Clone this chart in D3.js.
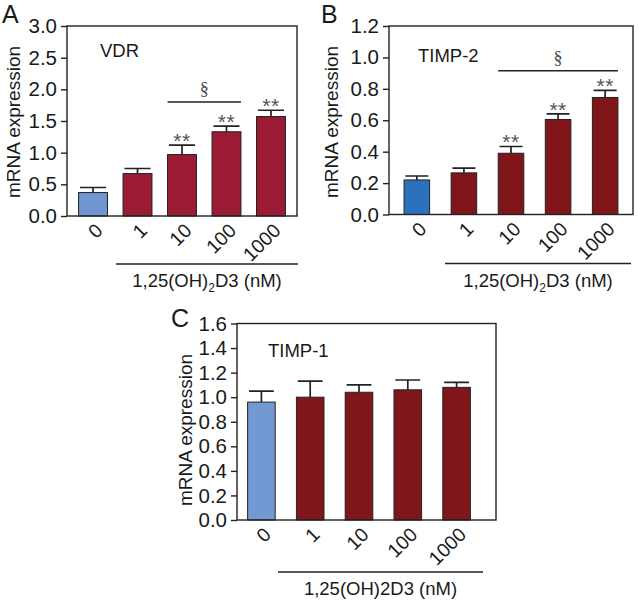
<!DOCTYPE html>
<html>
<head>
<meta charset="utf-8">
<script src="https://cdn.jsdelivr.net/npm/d3@7"></script>
<style>
  body { margin: 0; background: #fff; }
  svg { display: block; font-family: "Liberation Sans", Arial, sans-serif; }
</style>
</head>
<body>
<svg id="chart" width="638" height="602"></svg>
<script>
// doses of 1,25(OH)2D3 (nM)
const doses = ["0", "1", "10", "100", "1000"];

// A - VDR
const vdrMean = [0.37, 0.67, 0.97, 1.33, 1.57];
const vdrErr = [0.08, 0.08, 0.15, 0.09, 0.10];
const vdrStars = ["", "", "**", "**", "**"];
const vdrTicks = [0, 0.5, 1.0, 1.5, 2.0, 2.5, 3.0];

// B - TIMP-2
const timp2Mean = [0.22, 0.265, 0.39, 0.605, 0.745];
const timp2Err = [0.025, 0.03, 0.043, 0.035, 0.045];
const timp2Stars = ["", "", "**", "**", "**"];
const timp2Ticks = [0, 0.2, 0.4, 0.6, 0.8, 1.0, 1.2];

// C - TIMP-1
const timp1Mean = [0.96, 1.0, 1.04, 1.06, 1.08];
const timp1Err = [0.09, 0.13, 0.06, 0.08, 0.04];
const timp1Stars = ["", "", "", "", ""];
const timp1Ticks = [0, 0.2, 0.4, 0.6, 0.8, 1.0, 1.2, 1.4, 1.6];

const svg = d3.select("#chart");

function drawPanel(p) {
    const g = svg.append("g");

    const y = d3.scaleLinear()
        .domain([0, p.ticks[p.ticks.length - 1]])
        .range([p.y1, p.y0]);

    const x = d3.scaleBand()
        .domain(doses)
        .range(p.band)
        .paddingInner(p.pi)
        .paddingOuter(p.po);

    const data = doses.map((d, i) => ({dose: d, mean: p.mean[i], err: p.err[i], star: p.stars[i]}));

    // bars
    g.selectAll(".bar")
        .data(data)
        .enter().append("rect")
        .attr("x", d => x(d.dose))
        .attr("y", d => y(d.mean))
        .attr("width", x.bandwidth())
        .attr("height", d => y(0) - y(d.mean))
        .attr("fill", (d, i) => i == 0 ? p.blue : p.red)
        .attr("stroke", "#222")
        .attr("stroke-width", 1);

    // error bars (upper only)
    const cap = x.bandwidth() * 0.9;
    g.selectAll(".err")
        .data(data)
        .enter().append("path")
        .attr("d", d => {
            const cx = x(d.dose) + x.bandwidth() / 2;
            return "M" + cx + "," + y(d.mean) + "V" + y(d.mean + d.err) +
                "M" + (cx - cap / 2) + "," + y(d.mean + d.err) + "H" + (cx + cap / 2);
        })
        .attr("stroke", "#222")
        .attr("stroke-width", 1.7)
        .attr("fill", "none");

    // stars
    g.selectAll(".star")
        .data(data.filter(d => d.star))
        .enter().append("text")
        .attr("x", d => x(d.dose) + x.bandwidth() / 2)
        .attr("y", d => y(d.mean + d.err) + 3)
        .attr("text-anchor", "middle")
        .attr("font-size", 21)
        .attr("letter-spacing", 0.5)
        .attr("fill", "#555")
        .text(d => d.star);

    // significance line
    if (p.sig) {
        const sx0 = x(p.sig.from), sx1 = x(p.sig.to) + x.bandwidth();
        g.append("line")
            .attr("x1", sx0).attr("x2", sx1)
            .attr("y1", y(p.sig.level)).attr("y2", y(p.sig.level))
            .attr("stroke", "#222").attr("stroke-width", 1.6);
        g.append("text")
            .attr("x", (sx0 + sx1) / 2)
            .attr("y", y(p.sig.level) - 7)
            .attr("text-anchor", "middle")
            .attr("font-family", "Liberation Serif, serif")
            .attr("font-size", 18)
            .attr("fill", "#444")
            .text("§");
    }

    // y axis
    const axis = g.append("g")
        .attr("transform", "translate(" + p.band[0] + ",0)")
        .call(d3.axisLeft(y).tickValues(p.ticks).tickFormat(d3.format(".1f")).tickSize(6).tickSizeOuter(0).tickPadding(4));
    axis.select(".domain").remove();
    axis.selectAll("line").attr("stroke", "#222").attr("stroke-width", 1.4);
    axis.selectAll("text").attr("font-size", 20.5).attr("fill", "#1a1a1a")
        .attr("font-family", "Liberation Sans, Arial, sans-serif");

    // frame
    g.append("rect")
        .attr("x", p.band[0]).attr("y", p.y0)
        .attr("width", p.x1 - p.band[0]).attr("height", p.y1 - p.y0)
        .attr("fill", "none").attr("stroke", "#222").attr("stroke-width", 1.4);

    // x tick labels
    g.selectAll(".xl")
        .data(doses)
        .enter().append("text")
        .attr("transform", d => "translate(" + (x(d) + x.bandwidth() / 2 + 6) + "," + (p.y1 + 11) + ") rotate(-45)")
        .attr("text-anchor", "end")
        .attr("dy", "0.35em")
        .attr("font-size", 19.5)
        .attr("fill", "#1a1a1a")
        .text(d => d);

    // dose group line + title
    g.append("line")
        .attr("x1", p.group[0]).attr("x2", p.group[1])
        .attr("y1", p.group[2]).attr("y2", p.group[2])
        .attr("stroke", "#222").attr("stroke-width", 1.6);
    const t = g.append("text")
        .attr("x", (p.group[0] + p.group[1]) / 2)
        .attr("y", p.group[2] + 23)
        .attr("text-anchor", "middle")
        .attr("font-size", 18.5)
        .attr("fill", "#1a1a1a");
    if (p.subscript) {
        t.append("tspan").text("1,25(OH)");
        t.append("tspan").attr("font-size", 12).attr("dy", 5).text("2");
        t.append("tspan").attr("dy", -5).text("D3 (nM)");
    } else {
        t.text("1,25(OH)2D3 (nM)");
    }

    // y label
    g.append("text")
        .attr("transform", "translate(" + p.ylab[0] + "," + p.ylab[1] + ") rotate(-90)")
        .attr("text-anchor", "middle")
        .attr("dy", "0.35em")
        .attr("font-size", 19)
        .attr("fill", "#1a1a1a")
        .text("mRNA expression");

    // gene name
    g.append("text")
        .attr("x", p.name[1]).attr("y", p.name[2])
        .attr("font-size", 18.5)
        .attr("fill", "#1a1a1a")
        .text(p.name[0]);

    // panel letter
    g.append("text")
        .attr("x", p.letter[1]).attr("y", p.letter[2])
        .attr("font-size", 25)
        .attr("fill", "#1a1a1a")
        .text(p.letter[0]);
}

drawPanel({
    mean: vdrMean, err: vdrErr, stars: vdrStars, ticks: vdrTicks,
    band: [67, 297], x1: 297, y0: 26, y1: 216, pi: 0.35, po: 0.26,
    blue: "#7095d0", red: "#9b1b35",
    sig: {from: "10", to: "100", level: 1.8},
    group: [116, 298, 264], subscript: true,
    ylab: [13, 122], name: ["VDR", 100, 57], letter: ["A", 2, 23]
});

drawPanel({
    mean: timp2Mean, err: timp2Err, stars: timp2Stars, ticks: timp2Ticks,
    band: [389, 633], x1: 633, y0: 26, y1: 214.5, pi: 0.457, po: 0.32,
    blue: "#2d70bc", red: "#7f1519",
    sig: {from: "10", to: "1000", level: 0.915},
    group: [445, 631, 263.5], subscript: true,
    ylab: [331, 122], name: ["TIMP-2", 418, 62], letter: ["B", 321, 23]
});

drawPanel({
    mean: timp1Mean, err: timp1Err, stars: timp1Stars, ticks: timp1Ticks,
    band: [237, 481], x1: 496, y0: 323.5, y1: 520, pi: 0.435, po: 0.2175,
    blue: "#7399d3", red: "#7e161a",
    sig: null,
    group: [278, 483, 572], subscript: false,
    ylab: [185, 430], name: ["TIMP-1", 268, 356.5], letter: ["C", 171, 327]
});
</script>
</body>
</html>
